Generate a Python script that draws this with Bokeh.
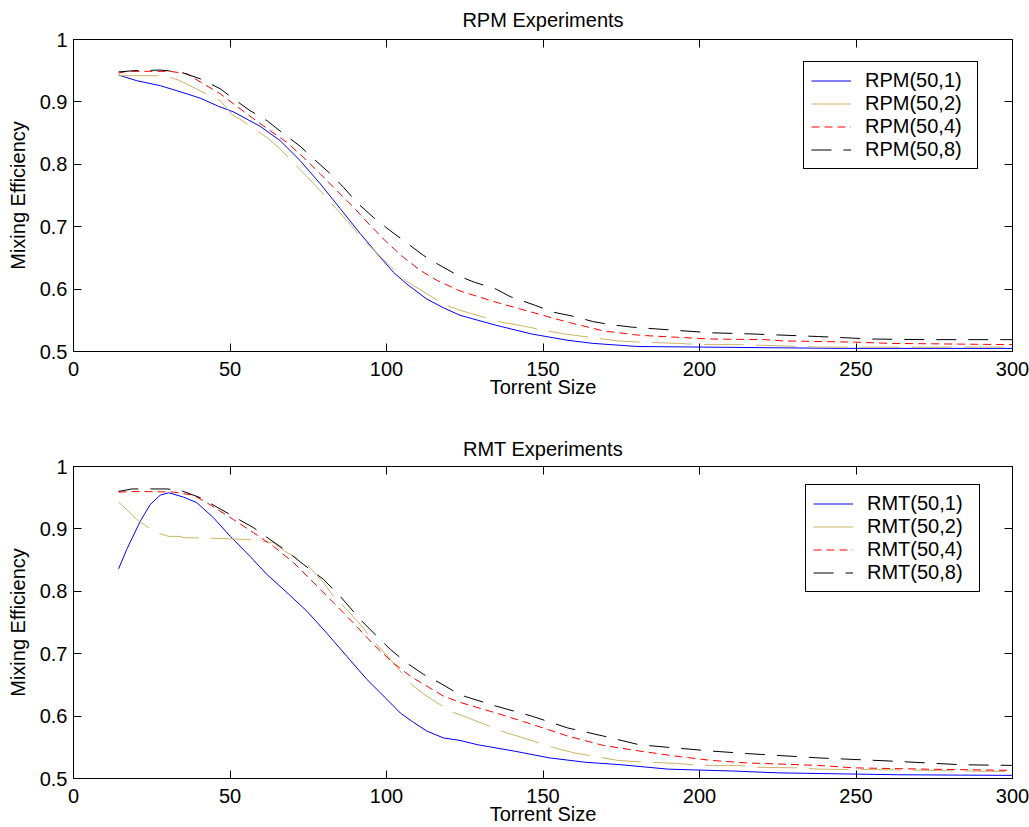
from bokeh.plotting import figure
from bokeh.layouts import column
from bokeh.models import (FixedTicker, NumeralTickFormatter, LinearAxis, Legend,
                          LegendItem, Range1d)
from bokeh.embed import file_html
from bokeh.resources import INLINE

# ---------------- data ----------------
x_ticks = [0, 50, 100, 150, 200, 250, 300]
y_ticks = [0.5, 0.6, 0.7, 0.8, 0.9, 1.0]

rpm_labels = ["RPM(50,1)", "RPM(50,2)", "RPM(50,4)", "RPM(50,8)"]
rmt_labels = ["RMT(50,1)", "RMT(50,2)", "RMT(50,4)", "RMT(50,8)"]

rpm1_x = [14.4, 20.2, 27.7, 33.0, 40.5, 46.3, 51.1, 59.6, 66.0, 72.4, 78.8, 85.2, 91.6, 98.0, 102.2,
          106.5, 112.9, 118.2, 123.5, 135.0, 146.4, 157.9, 165.9, 180.2, 246.0, 300.0]
rpm1_y = [0.943, 0.934, 0.926, 0.918, 0.906, 0.893, 0.884, 0.861, 0.838, 0.806, 0.769, 0.729, 0.689,
          0.651, 0.627, 0.608, 0.584, 0.570, 0.558, 0.542, 0.528, 0.518, 0.513, 0.508, 0.505, 0.505]

rpm2_x = [14.4, 29.3, 33.5, 46.9, 51.0, 53.0, 61.8, 65.5, 75.6, 79.3, 88.9, 92.1, 102.2, 106.0, 118.2,
          123.5, 136.7, 141.3, 155.6, 160.1, 173.9, 180.8, 193.4, 199.6, 212.8, 226.6, 238.0, 252.9, 300.0]
rpm2_y = [0.942, 0.942, 0.935, 0.902, 0.878, 0.873, 0.843, 0.827, 0.775, 0.755, 0.701, 0.681, 0.632,
          0.614, 0.576, 0.566, 0.547, 0.543, 0.529, 0.526, 0.517, 0.515, 0.513, 0.511, 0.511, 0.509,
          0.507, 0.507, 0.507]

rpm4_x = [14.4, 17.0, 30.9, 36.2, 41.5, 46.9, 51.1, 57.5, 62.8, 68.2, 73.5, 78.8, 84.1, 89.5, 94.8,
          100.1, 105.4, 110.8, 116.1, 123.5, 135.0, 146.4, 157.9, 169.3, 180.8, 192.2, 203.7, 220.8,
          226.6, 249.5, 260.9, 300.0]
rpm4_y = [0.946, 0.949, 0.949, 0.945, 0.929, 0.913, 0.897, 0.873, 0.854, 0.835, 0.811, 0.785, 0.758,
          0.731, 0.702, 0.675, 0.651, 0.630, 0.614, 0.597, 0.579, 0.563, 0.547, 0.533, 0.526, 0.523,
          0.520, 0.519, 0.517, 0.515, 0.513, 0.511]

rpm8_x = [14.4, 19.2, 27.7, 34.1, 40.5, 46.9, 51.1, 56.4, 61.8, 67.1, 72.4, 76.7, 82.0, 86.3, 90.5,
          95.8, 101.1, 105.4, 111.8, 117.1, 123.5, 128.1, 135.0, 139.5, 147.5, 153.3, 160.1, 165.9,
          171.6, 178.5, 192.2, 203.7, 217.4, 238.0, 255.2, 272.4, 300.0]
rpm8_y = [0.948, 0.950, 0.951, 0.948, 0.937, 0.921, 0.905, 0.886, 0.870, 0.849, 0.829, 0.809, 0.785,
          0.763, 0.739, 0.715, 0.694, 0.678, 0.654, 0.638, 0.620, 0.611, 0.600, 0.588, 0.574, 0.563,
          0.556, 0.548, 0.543, 0.539, 0.534, 0.530, 0.528, 0.524, 0.520, 0.519, 0.519]

rmt1_x = [14.4, 17.0, 21.3, 24.5, 27.7, 30.4, 35.1, 39.4, 44.7, 50.1, 56.4, 61.8, 68.2, 74.6, 80.9,
          87.3, 93.7, 100.1, 104.4, 108.6, 112.9, 118.2, 123.5, 129.2, 140.7, 152.1, 163.6, 175.0,
          189.9, 210.5, 225.4, 263.2, 300.0]
rmt1_y = [0.836, 0.867, 0.912, 0.939, 0.954, 0.958, 0.951, 0.942, 0.918, 0.888, 0.856, 0.827, 0.798,
          0.768, 0.733, 0.696, 0.659, 0.627, 0.605, 0.590, 0.576, 0.565, 0.561, 0.554, 0.544, 0.533,
          0.526, 0.522, 0.515, 0.512, 0.509, 0.506, 0.505]

rmt2_x = [14.4, 17.0, 20.2, 26.1, 30.4, 34.1, 35.1, 44.7, 50.1, 55.4, 63.9, 68.2, 74.6, 79.9, 83.0,
          87.3, 91.6, 95.3, 101.2, 104.9, 108.6, 112.9, 120.3, 124.6, 138.4, 141.8, 154.4, 160.1,
          173.9, 179.6, 193.4, 200.2, 212.8, 218.5, 232.3, 238.0, 258.6, 300.0]
rmt2_y = [0.943, 0.931, 0.915, 0.895, 0.888, 0.888, 0.886, 0.885, 0.884, 0.883, 0.878, 0.862, 0.843,
          0.814, 0.792, 0.771, 0.747, 0.723, 0.691, 0.669, 0.648, 0.632, 0.608, 0.600, 0.573, 0.568,
          0.548, 0.541, 0.529, 0.527, 0.524, 0.521, 0.521, 0.518, 0.517, 0.515, 0.514, 0.511]

rmt4_x = [14.4, 20.2, 32.0, 38.3, 42.6, 51.1, 57.5, 63.9, 70.3, 76.7, 83.0, 89.5, 95.8, 102.2, 107.6,
          112.9, 118.2, 123.5, 135.0, 146.4, 157.9, 169.3, 180.8, 192.2, 203.7, 215.1, 238.0, 249.5,
          272.4, 300.0]
rmt4_y = [0.959, 0.960, 0.959, 0.954, 0.942, 0.915, 0.894, 0.872, 0.846, 0.814, 0.782, 0.749, 0.715,
          0.685, 0.664, 0.648, 0.632, 0.622, 0.605, 0.587, 0.568, 0.553, 0.544, 0.536, 0.529, 0.525,
          0.521, 0.517, 0.515, 0.513]

rmt8_x = [14.4, 18.6, 29.8, 34.1, 40.5, 51.1, 57.5, 62.8, 68.2, 73.5, 79.9, 85.2, 91.6, 96.9, 101.2,
          106.5, 111.8, 117.1, 123.5, 135.0, 146.4, 157.9, 169.3, 180.8, 192.2, 203.7, 215.1, 238.0,
          260.9, 283.8, 300.0]
rmt8_y = [0.960, 0.964, 0.964, 0.962, 0.950, 0.920, 0.902, 0.883, 0.864, 0.843, 0.819, 0.792, 0.755,
          0.728, 0.707, 0.685, 0.667, 0.653, 0.634, 0.616, 0.600, 0.581, 0.568, 0.554, 0.549, 0.544,
          0.540, 0.533, 0.528, 0.522, 0.521]

# ---------------- styles ----------------
FONT = "Liberation Sans"
FS = "20px"
COLORS = ["#0000ff", "#ccb366", "#ff0000", "#000000"]
DASHES = ["solid", "40 12", "8 5", "20 12"]


def make_fig(title, xs, ys, labels, height, top, bottom, legend_xy, title_standoff):
    p = figure(width=1029, height=height, x_range=Range1d(0, 300), y_range=Range1d(0.5, 1.0),
               output_backend="svg", toolbar_location=None, title=title,
               min_border_left=73, min_border_right=17, min_border_top=top,
               min_border_bottom=bottom)
    p.title.align = "center"
    p.title.vertical_align = "top"
    p.title.text_font = FONT
    p.title.text_font_size = FS
    p.title.text_font_style = "normal"
    p.title.text_color = "black"
    p.title.standoff = title_standoff
    p.grid.visible = False
    p.outline_line_color = "black"
    p.outline_line_alpha = 1.0
    p.outline_line_width = 1

    for ax, tk in ((p.xaxis[0], x_ticks), (p.yaxis[0], y_ticks)):
        ax.ticker = FixedTicker(ticks=tk)
        ax.minor_tick_line_color = None
        ax.major_tick_in = 8
        ax.major_tick_out = 0
        ax.axis_line_color = "black"
        ax.major_tick_line_color = "black"
        ax.major_label_text_font = FONT
        ax.major_label_text_font_size = FS
        ax.major_label_text_color = "black"
        ax.axis_label_text_font = FONT
        ax.axis_label_text_font_size = FS
        ax.axis_label_text_font_style = "normal"
        ax.axis_label_text_color = "black"
    p.xaxis[0].axis_label = "Torrent Size"
    p.xaxis[0].major_label_standoff = 10
    p.xaxis[0].axis_label_standoff = -3
    p.yaxis[0].axis_label = "Mixing Efficiency"
    p.yaxis[0].major_label_standoff = 6
    p.yaxis[0].axis_label_standoff = 8
    p.yaxis[0].formatter = NumeralTickFormatter(format="0.[0]")

    # tick marks on the top and right edges of the box (no labels drawn)
    for loc, tk in (("above", x_ticks), ("right", y_ticks)):
        ax = LinearAxis(ticker=FixedTicker(ticks=tk), major_tick_in=8, major_tick_out=0,
                        minor_tick_line_color=None, major_label_standoff=0,
                        major_label_text_font_size="1px", major_label_text_color=None,
                        axis_line_color="black")
        p.add_layout(ax, loc)

    renderers = []
    for x, y, c, d in zip(xs, ys, COLORS, DASHES):
        r = p.line(x, y, line_color=c, line_width=1, line_dash=d)
        renderers.append(r)

    leg = Legend(items=[LegendItem(label=l, renderers=[r]) for l, r in zip(labels, renderers)],
                 location=legend_xy, border_line_color="black", border_line_width=1,
                 border_line_alpha=1.0, background_fill_color="white", background_fill_alpha=1.0,
                 label_text_font=FONT, label_text_font_size=FS, label_text_color="black",
                 glyph_width=40, glyph_height=23, label_height=23, label_width=105,
                 label_standoff=14, padding=7, spacing=0, margin=0)
    p.add_layout(leg)
    return p


p1 = make_fig("RPM Experiments", [rpm1_x, rpm2_x, rpm4_x, rpm8_x],
              [rpm1_y, rpm2_y, rpm4_y, rpm8_y], rpm_labels, 431, 39, 80, (730, 182), 14)
p2 = make_fig("RMT Experiments", [rmt1_x, rmt2_x, rmt4_x, rmt8_x],
              [rmt1_y, rmt2_y, rmt4_y, rmt8_y], rmt_labels, 396, 35, 49, (732, 186), 10)

layout = column(p1, p2)
open("out.html", "w").write(file_html(layout, INLINE))
